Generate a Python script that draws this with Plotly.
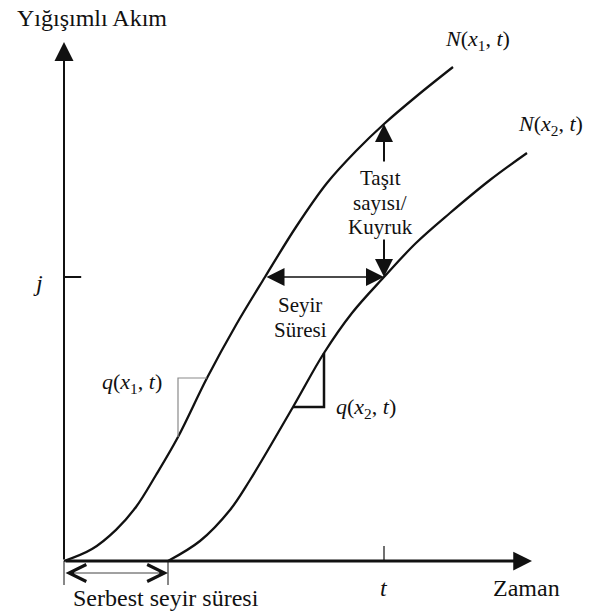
import plotly.graph_objects as go

# Cumulative arrival curves at the upstream (x1) and downstream (x2) detectors
N1_T = [0, 0.7, 1.3, 1.8, 2.3, 2.85, 3.575, 4.3, 5.025, 5.8, 6.575, 7.3, 8.0, 8.85, 9.725]
N1_N = [0, 0.3, 0.78, 1.35, 2.15, 3.1, 4.575, 5.9, 7.1, 8.35, 9.45, 10.25, 10.925, 11.65, 12.35]

N2_T = [2.6, 3.4, 4.15, 4.65, 5.725, 6.5, 7.2, 8.0, 8.8, 9.65, 10.65, 11.575]
N2_N = [0, 0.5, 1.275, 2.025, 3.85, 5.2, 6.2, 7.1, 7.95, 8.7, 9.525, 10.2]

# Marked instants / levels
T_MARK = 8.0          # time t
J_LEVEL = 7.1         # vehicle number j
FREE_FLOW = 2.6       # free-flow travel time
T_AT_J_UP = 5.025     # time at which N(x1, t) reaches j
N1_AT_T = 10.925      # N(x1, t) at time t

# Slope triangles (flow rates)
Q1_T = [2.85, 2.85, 3.575]
Q1_N = [3.1, 4.575, 4.575]
Q2_T = [5.725, 6.5, 6.5]
Q2_N = [3.85, 3.85, 5.2]

# Axis extents
T_END = 11.7
N_END = 12.975

SERIF = "Liberation Serif"
INK = "#111111"

fig = go.Figure()

curve_style = dict(color=INK, width=2.3, shape="spline", smoothing=1.0)
fig.add_trace(go.Scatter(x=N1_T, y=N1_N, mode="lines", line=curve_style, hoverinfo="skip"))
fig.add_trace(go.Scatter(x=N2_T, y=N2_N, mode="lines", line=curve_style, hoverinfo="skip"))

fig.add_trace(go.Scatter(x=Q1_T, y=Q1_N, mode="lines", line=dict(color="#8a8a8a", width=1.2), hoverinfo="skip"))
fig.add_trace(go.Scatter(x=Q2_T, y=Q2_N, mode="lines", line=dict(color=INK, width=2.5), hoverinfo="skip"))

# Tick marks for t and j
fig.add_trace(go.Scatter(x=[T_MARK, T_MARK], y=[0, 0.375], mode="lines",
                         line=dict(color=INK, width=1.2), hoverinfo="skip"))
fig.add_trace(go.Scatter(x=[0, 0.43], y=[J_LEVEL, J_LEVEL], mode="lines",
                         line=dict(color=INK, width=2), hoverinfo="skip"))

# Short end marks bounding the free-flow travel time
for tx in (0, FREE_FLOW):
    fig.add_trace(go.Scatter(x=[tx, tx], y=[0, -0.6], mode="lines",
                             line=dict(color=INK, width=1), hoverinfo="skip"))

def arrow(x, y, ax, ay, width=2, size=1.8, head=2, both=False):
    fig.add_annotation(x=x, y=y, ax=ax, ay=ay, xref="x", yref="y", axref="x", ayref="y",
                       text="", showarrow=True, arrowhead=head, arrowsize=size,
                       arrowwidth=width, arrowcolor=INK, standoff=0, startstandoff=0,
                       arrowside="end+start" if both else "end",
                       startarrowhead=head, startarrowsize=size)

# Axes
arrow(0, N_END, 0, 0, width=2, size=1.9)
arrow(T_END, 0, 0, 0, width=3, size=1.25)

# Queue length at time t
arrow(T_MARK, N1_AT_T, T_MARK, 9.95, width=2, size=1.8)
arrow(T_MARK, J_LEVEL, T_MARK, 8.075, width=2, size=1.8)

# Travel time of vehicle j
arrow(T_MARK, J_LEVEL, T_AT_J_UP, J_LEVEL, width=1.5, size=2.4, both=True)

# Free-flow travel time
arrow(FREE_FLOW, -0.3, 0, -0.3, width=0.8, size=4.2, head=5, both=True)

def label(x, y, text, size=24, xanchor="center"):
    fig.add_annotation(x=x, y=y, xref="x", yref="y", text=text, showarrow=False,
                       xanchor=xanchor, yanchor="middle",
                       font=dict(family=SERIF, size=size, color=INK))

label(0.7, 13.575, "Yığışımlı Akım")
label(10.325, 13.025, "<i>N</i>(<i>x</i><sub>1</sub>, <i>t</i>)", size=22)
label(12.15, 10.9, "<i>N</i>(<i>x</i><sub>2</sub>, <i>t</i>)", size=22)
label(7.9, 9.575, "Taşıt", size=21)
label(7.9, 8.95, "sayısı/", size=21)
label(7.9, 8.35, "Kuyruk", size=21)
label(5.9, 6.4, "Seyir", size=21)
label(5.9, 5.775, "Süresi", size=21)
label(1.7, 4.45, "<i>q</i>(<i>x</i><sub>1</sub>, <i>t</i>)", size=22)
label(7.55, 3.825, "<i>q</i>(<i>x</i><sub>2</sub>, <i>t</i>)", size=22)
label(-0.65, 6.95, "<i>j</i>")
label(T_MARK, -0.675, "<i>t</i>")
label(11.55, -0.675, "Zaman")
label(2.55, -0.925, "Serbest seyir süresi")

fig.update_layout(
    width=591, height=611,
    margin=dict(l=0, r=0, t=0, b=0),
    paper_bgcolor="white", plot_bgcolor="white",
    showlegend=False,
    xaxis=dict(range=[-1.6, 13.175], visible=False, fixedrange=True),
    yaxis=dict(range=[-1.25, 14.025], visible=False, fixedrange=True),
)

fig.write_html("out.html")
